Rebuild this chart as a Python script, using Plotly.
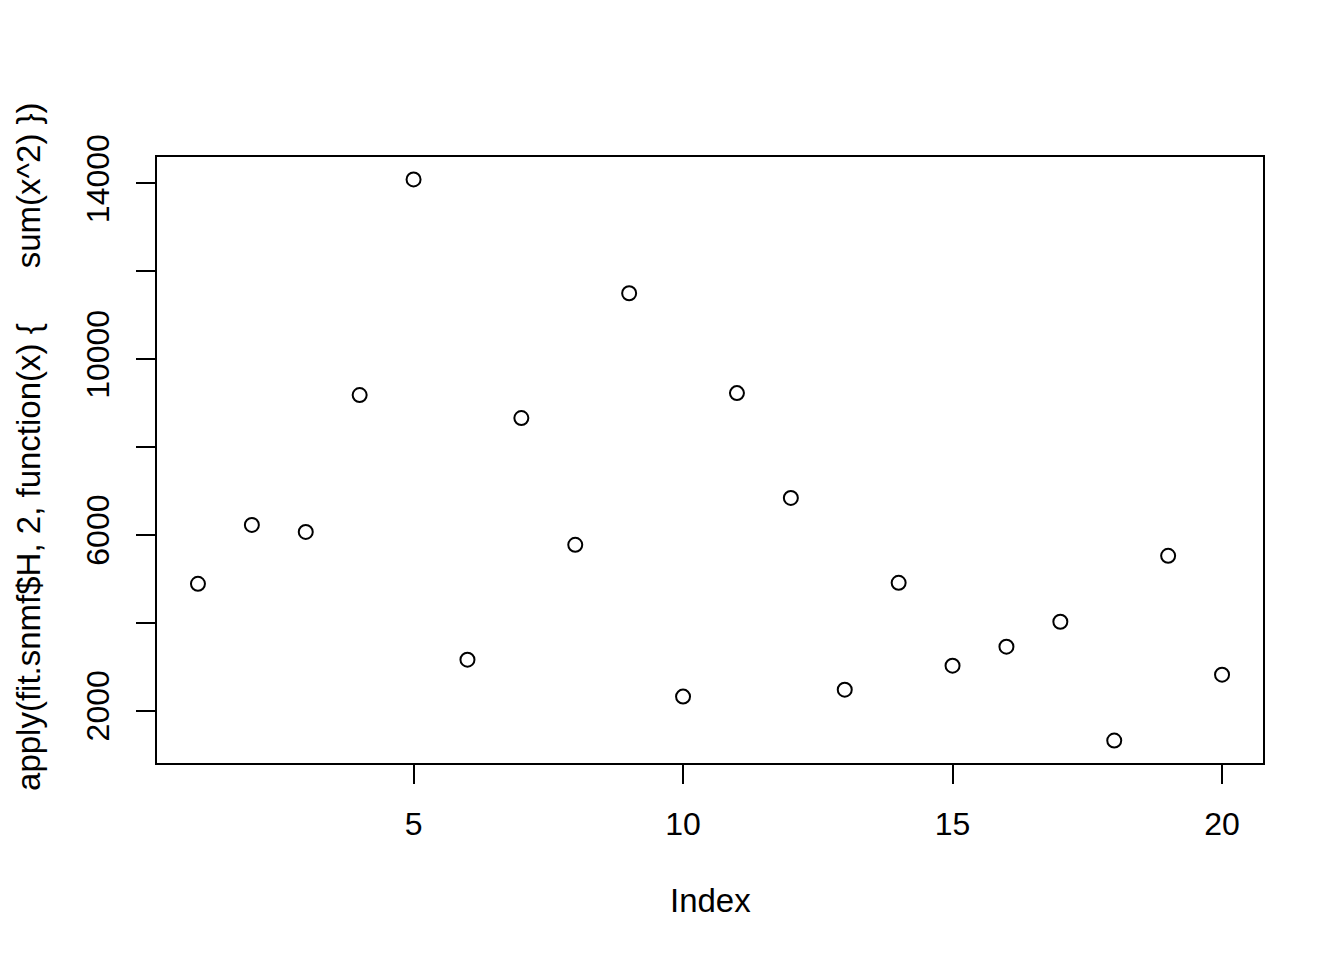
import plotly.graph_objects as go

index = list(range(1, 21))
values = [4886, 6227, 6068, 9182, 14091, 3159, 8659, 5773, 11500, 2318,
          9227, 6841, 2477, 4909, 3023, 3455, 4023, 1318, 5523, 2818]

x_ticks = [5, 10, 15, 20]
y_ticks = [2000, 4000, 6000, 8000, 10000, 12000, 14000]
y_ticktext = ["2000", "", "6000", "", "10000", "", "14000"]

x_title = "Index"
y_title = "apply(fit.snmf$H, 2, function(x) {      sum(x^2) })"

FONT = "Liberation Sans, Arial, Helvetica, sans-serif"
TICK_FS = 32
TITLE_FS = 33

fig = go.Figure()
fig.add_trace(go.Scatter(
    x=index, y=values, mode="markers",
    marker=dict(symbol="circle-open", size=14, color="black",
                line=dict(width=2, color="black")),
    showlegend=False, hoverinfo="x+y",
))

# page body has an 8px default margin; compensate so the plot box sits at
# x 157..1263, y 157..763 in the viewport
fig.update_layout(
    width=1344, height=960,
    paper_bgcolor="white", plot_bgcolor="white",
    margin=dict(l=149, r=89, t=149, b=205, pad=0),
    font=dict(family=FONT, size=TICK_FS, color="black"),
    xaxis=dict(
        range=[0.24, 20.76], tickvals=x_ticks,
        ticktext=[str(v) for v in x_ticks],
        ticks="outside", ticklen=19, tickwidth=2, tickcolor="black",
        showline=True, linewidth=2, linecolor="black", mirror=True,
        showgrid=False, zeroline=False,
        tickfont=dict(family=FONT, size=TICK_FS, color="black"),
        ticklabelstandoff=13,
    ),
    yaxis=dict(
        range=[807, 14602], tickvals=y_ticks, ticktext=y_ticktext,
        tickangle=-90,
        ticks="outside", ticklen=19, tickwidth=2, tickcolor="black",
        showline=True, linewidth=2, linecolor="black", mirror=True,
        showgrid=False, zeroline=False,
        tickfont=dict(family=FONT, size=TICK_FS, color="black"),
        ticklabelstandoff=14,
    ),
    annotations=[
        dict(text=x_title, xref="paper", yref="paper", x=0.5, y=0,
             xanchor="center", yanchor="middle", yshift=-137,
             showarrow=False, font=dict(family=FONT, size=TITLE_FS, color="black")),
        dict(text=y_title.replace(" ", "\u00a0"), xref="paper", yref="paper",
             x=0, y=0.5215, xanchor="center", yanchor="middle", xshift=-128,
             textangle=-90, showarrow=False,
             font=dict(family=FONT, size=TITLE_FS, color="black")),
    ],
)

fig.write_html("out.html")
